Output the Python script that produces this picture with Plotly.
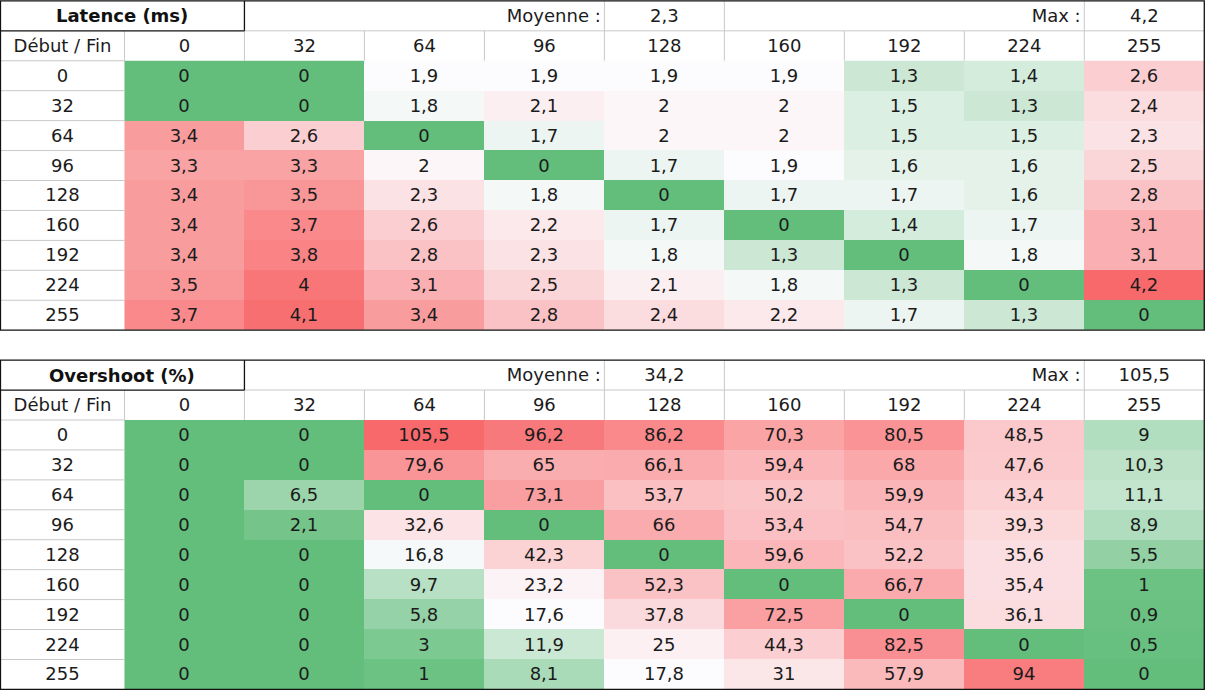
import numpy as np
import plotly.graph_objects as go

# --- data ---
niveaux = ["0", "32", "64", "96", "128", "160", "192", "224", "255"]

latence = [
    [0, 0, 1.9, 1.9, 1.9, 1.9, 1.3, 1.4, 2.6],
    [0, 0, 1.8, 2.1, 2, 2, 1.5, 1.3, 2.4],
    [3.4, 2.6, 0, 1.7, 2, 2, 1.5, 1.5, 2.3],
    [3.3, 3.3, 2, 0, 1.7, 1.9, 1.6, 1.6, 2.5],
    [3.4, 3.5, 2.3, 1.8, 0, 1.7, 1.7, 1.6, 2.8],
    [3.4, 3.7, 2.6, 2.2, 1.7, 0, 1.4, 1.7, 3.1],
    [3.4, 3.8, 2.8, 2.3, 1.8, 1.3, 0, 1.8, 3.1],
    [3.5, 4, 3.1, 2.5, 2.1, 1.8, 1.3, 0, 4.2],
    [3.7, 4.1, 3.4, 2.8, 2.4, 2.2, 1.7, 1.3, 0],
]
latence_moyenne = 2.3
latence_max = 4.2

overshoot = [
    [0, 0, 105.5, 96.2, 86.2, 70.3, 80.5, 48.5, 9],
    [0, 0, 79.6, 65, 66.1, 59.4, 68, 47.6, 10.3],
    [0, 6.5, 0, 73.1, 53.7, 50.2, 59.9, 43.4, 11.1],
    [0, 2.1, 32.6, 0, 66, 53.4, 54.7, 39.3, 8.9],
    [0, 0, 16.8, 42.3, 0, 59.6, 52.2, 35.6, 5.5],
    [0, 0, 9.7, 23.2, 52.3, 0, 66.7, 35.4, 1],
    [0, 0, 5.8, 17.6, 37.8, 72.5, 0, 36.1, 0.9],
    [0, 0, 3, 11.9, 25, 44.3, 82.5, 0, 0.5],
    [0, 0, 1, 8.1, 17.8, 31, 57.9, 94, 0],
]
overshoot_moyenne = 34.2
overshoot_max = 105.5

FONT = "DejaVu Sans"
TXT = "#1b1b1b"
GREEN = "rgb(99,190,123)"
WHITE = "rgb(252,252,255)"
RED = "rgb(248,105,107)"
GRID = "#c8c8c8"
FS = 18

LABEL_W = 124 / 120  # first column is a bit wider than the others


def fr(v):
    return f"{v:g}".replace(".", ",")


def echelle(z):
    # Excel-like 3 colour scale: min green, median white, max red
    arr = np.array(z, dtype=float)
    lo, hi, mid = arr.min(), arr.max(), np.percentile(arr, 50)
    m = (mid - lo) / (hi - lo)
    return [[0, GREEN], [m, WHITE], [1, RED]], lo, hi


fig = go.Figure()
shapes = []


def ligne(x0, y0, x1, y1, color=GRID, width=1):
    shapes.append(dict(type="line", xref="x", yref="y", x0=x0, y0=y0, x1=x1, y1=y1,
                       line=dict(color=color, width=width), layer="above"))


def table(z, titre, moyenne, maximum, top):
    cs, lo, hi = echelle(z)
    xs = [j + 0.5 for j in range(9)]
    ys = [top + 2.5 + i for i in range(9)]
    fig.add_trace(go.Heatmap(
        z=z, x=xs, y=ys, colorscale=cs, zmin=lo, zmax=hi, showscale=False,
        text=[[fr(v) for v in row] for row in z], texttemplate="%{text}",
        textfont=dict(family=FONT, size=FS, color=TXT), hoverinfo="skip",
    ))

    # row labels + column labels
    fig.add_trace(go.Scatter(
        x=[-LABEL_W / 2] * 9 + xs + [-LABEL_W / 2],
        y=[y + 0.05 for y in ys] + [top + 1.55] * 10,
        text=niveaux + niveaux + ["Début / Fin"],
        mode="text", textposition="middle center",
        textfont=dict(family=FONT, size=FS, color=TXT), hoverinfo="skip",
    ))
    # header row
    fig.add_trace(go.Scatter(
        x=[4 - 0.03, 4.5, 8 - 0.03, 8.5], y=[top + 0.55] * 4,
        text=["Moyenne :", fr(moyenne), "Max :", fr(maximum)],
        mode="text", textposition=["middle left", "middle center", "middle left", "middle center"],
        textfont=dict(family=FONT, size=FS, color=TXT), hoverinfo="skip",
    ))
    fig.add_annotation(x=(1 - LABEL_W) / 2, y=top + 0.5, xref="x", yref="y",
                       text=f"<b>{titre}</b>", showarrow=False,
                       font=dict(family=FONT, size=18, color="#111"))

    # light separators
    for j in range(0, 9):
        ligne(j, top + 1, j, top + 2)
    for k in [4, 5, 8]:
        ligne(k, top, k, top + 1)
    ligne(1, top + 1, 9, top + 1)
    for i in range(9):
        ligne(-LABEL_W, top + 2 + i, 0, top + 2 + i)

    # dark borders
    ligne(-LABEL_W, top + 1, 1, top + 1, "#111", 1.3)
    ligne(1, top, 1, top + 1, "#111", 1.3)
    shapes.append(dict(type="rect", xref="x", yref="y", x0=-LABEL_W, y0=top, x1=9, y1=top + 11,
                       line=dict(color="#111", width=1.3), layer="above"))


table(latence, "Latence (ms)", latence_moyenne, latence_max, 0)
table(overshoot, "Overshoot (%)", overshoot_moyenne, overshoot_max, 12)

fig.update_layout(
    width=1205, height=690,
    margin=dict(l=0, r=0, t=0, b=0),
    plot_bgcolor="white", paper_bgcolor="white",
    showlegend=False, shapes=shapes,
    xaxis=dict(range=[-LABEL_W - 0.004, 9.006], visible=False, fixedrange=True),
    yaxis=dict(range=[23.02, -0.03], visible=False, fixedrange=True),
)

# the page body has a default 8px margin, remove it so the figure fills the window
fig.write_html("out.html", config={"displayModeBar": False},
               post_script="document.body.style.margin='0';")
